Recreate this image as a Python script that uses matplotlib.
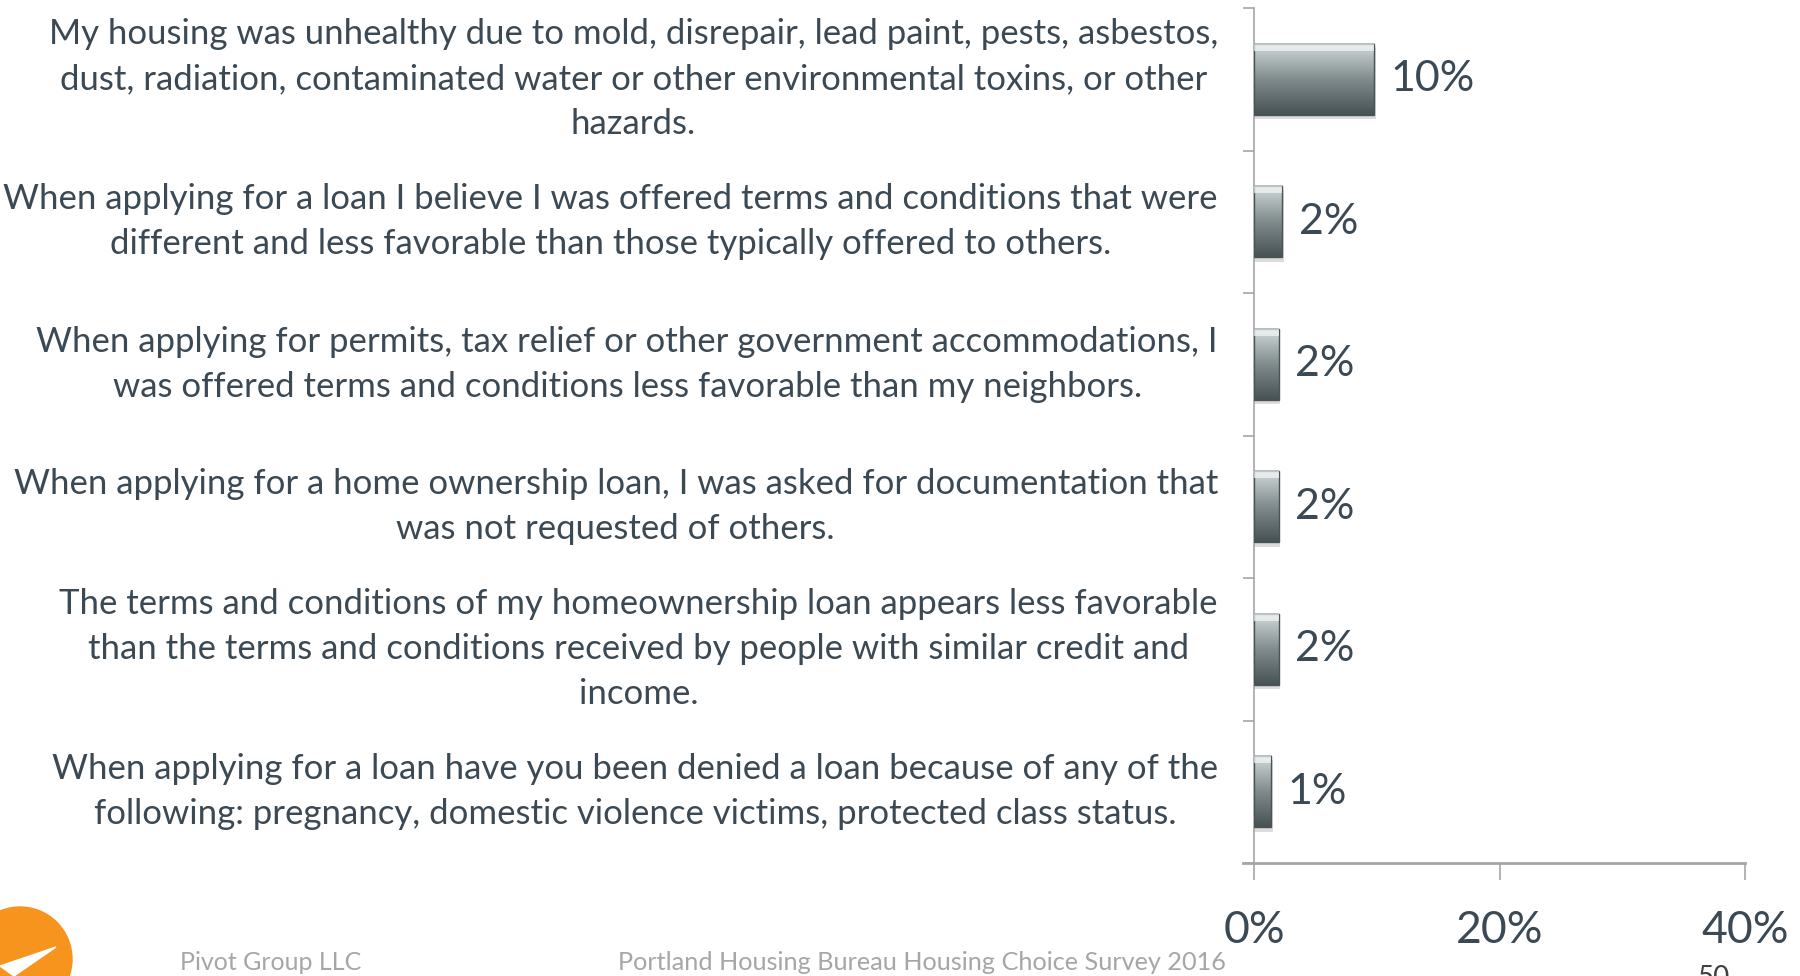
import numpy as np
import matplotlib
matplotlib.use("Agg")
import matplotlib.pyplot as plt
from matplotlib.patches import Ellipse, Polygon

plt.rcParams['font.family'] = ['Lato', 'DejaVu Sans']

# datos, de arriba hacia abajo
categorias = [
    "My housing was unhealthy due to mold, disrepair, lead paint, pests, asbestos,\n"
    "dust, radiation, contaminated water or other environmental toxins, or other\n"
    "hazards.",
    "When applying for a loan I believe I was offered terms and conditions that were\n"
    "different and less favorable than those typically offered to others.",
    "When applying for permits, tax relief or other government accommodations, I\n"
    "was offered terms and conditions less favorable than my neighbors.",
    "When applying for a home ownership loan, I was asked for documentation that\n"
    "was not requested of others.",
    "The terms and conditions of my homeownership loan appears less favorable\n"
    "than the terms and conditions received by people with similar credit and\n"
    "income.",
    "When applying for a loan have you been denied a loan because of any of the\n"
    "following: pregnancy, domestic violence victims, protected class status.",
]
valores = [9.8, 2.3, 2.0, 2.0, 2.0, 1.4]
ticks_x = [0, 20, 40]
etiquetas_x = ["0%", "20%", "40%"]

texto = '#3b4954'
gris = '#a3a5a7'

fig = plt.figure(figsize=(18, 9.76), dpi=100)
ax = fig.add_axes([1254/1800, 1 - 863/976, (1745 - 1254)/1800, (863 - 8)/976])

n = len(categorias)
pos = np.arange(n)[::-1]

barras = ax.barh(pos, valores, height=0.5, color='none', edgecolor='none')

# degradado en cada barra
grad = np.linspace(0, 1, 100).reshape(-1, 1)
cmap = matplotlib.colors.LinearSegmentedColormap.from_list('g', ['#465253', '#808c8d', '#d4dbdb'])
for b in barras:
    x0, y0, w, h = b.get_x(), b.get_y(), b.get_width(), b.get_height()
    # sombra
    ax.add_patch(plt.Rectangle((x0, y0 - 0.03), w + 0.12, h, color='#dcdcdc', zorder=1, lw=0))
    ax.imshow(grad, cmap=cmap, origin='lower', aspect='auto',
              extent=[x0, x0 + w, y0, y0 + h], zorder=2)
    ax.add_patch(plt.Rectangle((x0, y0), w, h, fill=False, edgecolor='#4a5456', lw=1.0, zorder=3))
    # borde superior claro
    ax.add_patch(plt.Rectangle((x0, y0 + h * 0.9), w, h * 0.1, color='#f2f6f6', lw=0, zorder=3, alpha=0.7))

for p, v in zip(pos, valores):
    ax.annotate(f"{v:.0f}%", (v, p), xytext=(12, 0), textcoords='offset points',
                va='center', ha='left', fontsize=31, color=texto)

ax.set_xlim(0, 40)
ax.set_ylim(-0.5, n - 0.5)

ax.set_xticks(ticks_x)
ax.set_xticklabels(etiquetas_x, fontsize=32, color=texto)
ax.tick_params(axis='x', direction='out', length=12, width=1.2, color=gris, pad=22)

# marcas de separacion y etiquetas de categoria
ax.set_yticks(np.arange(-0.5, n, 1.0))
ax.set_yticklabels([])
ax.set_yticks(pos, minor=True)
ax.set_yticklabels(categorias, minor=True, fontsize=25, color=texto, linespacing=1.5, va='center')
ax.tick_params(axis='y', which='major', direction='out', length=8, width=1.2, color=gris)
ax.tick_params(axis='y', which='minor', length=0, pad=26)
for lab in ax.get_yticklabels(minor=True):
    lab.set_multialignment('center')

for s in ['top', 'right']:
    ax.spines[s].set_visible(False)
ax.spines['left'].set_color(gris)
ax.spines['left'].set_linewidth(1.2)
ax.spines['bottom'].set_color(gris)
ax.spines['bottom'].set_linewidth(2.0)
ax.spines['bottom'].set_bounds(-0.9, 40)

# pie de pagina
fig.text(180/1800, 1 - 962/976, "Pivot Group LLC", fontsize=18, color='#a6a6a6', va='center')
fig.text(618/1800, 1 - 962/976, "Portland Housing Bureau Housing Choice Survey 2016",
         fontsize=18.2, color='#a6a6a6', va='center')
fig.text(1697/1800, 1 - 978/976, "50", fontsize=20, color='#404040', va='center')

# logo
fig.patches.append(Ellipse((20/1800, 1 - 959/976), 104/1800, 104/976,
                           transform=fig.transFigure, color='#f7941d', zorder=0))
fig.patches.append(Polygon([(0, 1 - 966/976), (56/1800, 1 - 947/976), (14/1800, 1 - 976/976)],
                           closed=True, transform=fig.transFigure, color='white', zorder=1))

fig.savefig("out.png", dpi=100)
